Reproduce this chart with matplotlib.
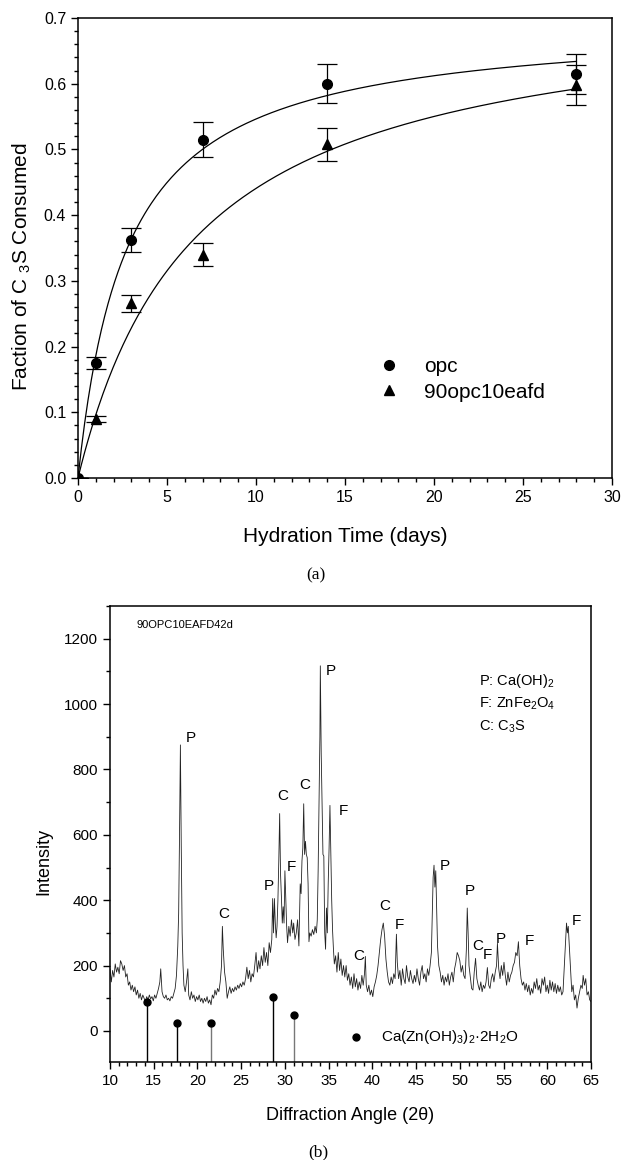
import numpy as np
import matplotlib
matplotlib.use("Agg")
import matplotlib.pyplot as plt
from matplotlib.ticker import MultipleLocator, FormatStrFormatter

plt.rcParams['font.family'] = ['Liberation Sans', 'DejaVu Sans']
plt.rcParams['mathtext.fontset'] = 'custom'
plt.rcParams['mathtext.rm'] = 'Liberation Sans'
plt.rcParams['mathtext.it'] = 'Liberation Sans'
plt.rcParams['mathtext.bf'] = 'Liberation Sans'

# ---------------- (a) data ----------------
days = [0, 1, 3, 7, 14, 28]
opc = [0.0, 0.175, 0.362, 0.515, 0.600, 0.615]
opc_err = [0.0, 0.009, 0.018, 0.026, 0.030, 0.030]
blend = [0.0, 0.090, 0.266, 0.340, 0.508, 0.598]
blend_err = [0.0, 0.005, 0.013, 0.017, 0.025, 0.030]
# hyperbolic fit parameters y = a*t/(b+t)
opc_fit = (0.696, 2.74)
blend_fit = (0.732, 6.61)

# ---------------- (b) data ----------------
xrd_angle = [
    10.0, 10.15, 10.3, 10.45, 10.6, 10.75, 10.9, 11.05, 11.2, 11.35,
    11.5, 11.65, 11.8, 11.95, 12.1, 12.25, 12.4, 12.55, 12.7, 12.85,
    13.0, 13.15, 13.3, 13.45, 13.6, 13.75, 13.9, 14.05, 14.2, 14.35,
    14.5, 14.65, 14.8, 14.95, 15.1, 15.25, 15.4, 15.55, 15.7, 15.8,
    15.95, 16.1, 16.25, 16.4, 16.55, 16.7, 16.85, 17.0, 17.15, 17.3,
    17.45, 17.6, 17.75, 17.85, 17.95, 18.05, 18.15, 18.25, 18.35, 18.45,
    18.6, 18.75, 18.9, 19.0, 19.15, 19.3, 19.45, 19.6, 19.75, 19.9,
    20.05, 20.2, 20.35, 20.5, 20.65, 20.8, 20.95, 21.1, 21.25, 21.4,
    21.55, 21.7, 21.85, 22.0, 22.15, 22.3, 22.45, 22.6, 22.75, 22.85,
    22.95, 23.1, 23.25, 23.4, 23.55, 23.7, 23.85, 24.0, 24.15, 24.3,
    24.45, 24.6, 24.75, 24.9, 25.05, 25.2, 25.35, 25.5, 25.65, 25.8,
    25.95, 26.1, 26.25, 26.4, 26.55, 26.7, 26.85, 27.0, 27.15, 27.3,
    27.45, 27.6, 27.75, 27.9, 28.05, 28.2, 28.35, 28.5, 28.6, 28.7,
    28.8, 28.9, 29.0, 29.1, 29.2, 29.3, 29.4, 29.5, 29.6, 29.7,
    29.8, 29.9, 30.0, 30.1, 30.2, 30.3, 30.45, 30.6, 30.75, 30.9,
    31.0, 31.15, 31.3, 31.45, 31.6, 31.75, 31.85, 31.95, 32.05, 32.15,
    32.25, 32.35, 32.45, 32.55, 32.65, 32.75, 32.85, 33.0, 33.15, 33.3,
    33.45, 33.6, 33.7, 33.8, 33.9, 34.0, 34.05, 34.15, 34.25, 34.35,
    34.45, 34.55, 34.65, 34.75, 34.85, 34.95, 35.05, 35.15, 35.25, 35.35,
    35.45, 35.55, 35.65, 35.8, 35.95, 36.1, 36.25, 36.4, 36.55, 36.7,
    36.85, 37.0, 37.15, 37.3, 37.45, 37.6, 37.75, 37.9, 38.05, 38.2,
    38.35, 38.5, 38.65, 38.8, 38.95, 39.1, 39.2, 39.3, 39.45, 39.6,
    39.75, 39.9, 40.05, 40.2, 40.35, 40.5, 40.65, 40.8, 40.95, 41.1,
    41.25, 41.4, 41.55, 41.7, 41.85, 42.0, 42.15, 42.3, 42.45, 42.6,
    42.75, 42.85, 43.0, 43.15, 43.3, 43.45, 43.6, 43.75, 43.9, 44.05,
    44.2, 44.35, 44.5, 44.65, 44.8, 44.95, 45.1, 45.25, 45.4, 45.55,
    45.7, 45.85, 46.0, 46.15, 46.3, 46.45, 46.6, 46.75, 46.85, 46.95,
    47.05, 47.15, 47.25, 47.35, 47.45, 47.6, 47.75, 47.9, 48.05, 48.2,
    48.35, 48.5, 48.65, 48.8, 48.95, 49.1, 49.25, 49.4, 49.55, 49.7,
    49.85, 50.0, 50.15, 50.3, 50.45, 50.6, 50.75, 50.85, 50.95, 51.05,
    51.2, 51.35, 51.5, 51.65, 51.8, 51.95, 52.1, 52.25, 52.4, 52.55,
    52.7, 52.85, 53.0, 53.15, 53.3, 53.45, 53.6, 53.75, 53.9, 54.05,
    54.2, 54.3, 54.45, 54.6, 54.75, 54.9, 55.05, 55.2, 55.35, 55.5,
    55.65, 55.8, 55.95, 56.1, 56.25, 56.4, 56.55, 56.7, 56.85, 57.0,
    57.15, 57.3, 57.45, 57.6, 57.75, 57.9, 58.05, 58.2, 58.35, 58.5,
    58.65, 58.8, 58.95, 59.1, 59.25, 59.4, 59.55, 59.7, 59.85, 60.0,
    60.15, 60.3, 60.45, 60.6, 60.75, 60.9, 61.05, 61.2, 61.35, 61.5,
    61.65, 61.8, 61.95, 62.1, 62.2, 62.3, 62.4, 62.5, 62.65, 62.8,
    62.95, 63.1, 63.25, 63.4, 63.55, 63.7, 63.85, 64.0, 64.1, 64.25,
    64.4, 64.55, 64.7, 64.85, 65.0]
xrd_intensity = [
    190, 150, 185, 165, 205, 180, 195, 175, 215, 205,
    185, 200, 165, 175, 140, 150, 125, 140, 120, 135,
    110, 125, 100, 115, 95, 110, 100, 90, 105, 95,
    110, 98, 105, 92, 110, 100, 115, 130, 150, 190,
    120, 105, 100, 110, 95, 100, 92, 105, 100, 115,
    130, 170, 260, 360, 600, 875, 560, 300, 200, 140,
    120, 150, 190, 110, 95, 120, 100, 110, 90, 105,
    95, 110, 90, 100, 85, 100, 90, 105, 85, 95,
    80, 110, 100, 125, 110, 130, 120, 150, 200, 320,
    250, 180, 150, 100, 120, 135, 115, 130, 120, 135,
    125, 140, 130, 145, 135, 150, 140, 160, 195, 160,
    185, 150, 175, 165, 200, 240, 180, 215, 190, 230,
    200, 255, 210, 240, 200, 270, 240, 280, 405, 300,
    405, 330, 285, 320, 400, 520, 665, 480, 410, 330,
    380, 330, 490, 400, 320, 270, 320, 290, 340, 300,
    330, 280, 300, 340, 260, 450, 420, 520, 560, 695,
    540, 580, 540, 530, 450, 273, 300, 290, 310, 295,
    320, 300, 340, 490, 700, 900, 1117, 850, 695, 540,
    535, 300, 250, 376, 300, 450, 558, 690, 540, 400,
    307, 250, 205, 230, 180, 240, 185, 220, 170, 200,
    165, 200, 155, 175, 140, 165, 130, 175, 135, 160,
    125, 150, 130, 170, 140, 175, 228, 140, 120, 140,
    110, 125, 105, 135, 150, 170, 200, 240, 280, 310,
    330, 290, 220, 180, 150, 140, 165, 145, 175, 160,
    296, 210, 160, 185, 140, 190, 160, 145, 200, 165,
    150, 185, 160, 145, 170, 150, 190, 160, 140, 180,
    200, 160, 175, 150, 190, 170, 200, 240, 350, 470,
    507, 440, 490, 380, 260, 200, 180, 150, 170, 140,
    165, 150, 175, 140, 165, 180, 150, 190, 210, 240,
    230, 215, 180, 200, 170, 160, 250, 376, 300, 200,
    165, 130, 125, 180, 222, 160, 140, 125, 150, 120,
    140, 130, 150, 194, 140, 130, 160, 175, 150, 180,
    200, 268, 190, 160, 200, 170, 210, 170, 140, 180,
    150, 170, 180, 200, 210, 240, 230, 273, 200, 160,
    140, 150, 125, 145, 120, 140, 110, 130, 115, 150,
    130, 160, 125, 140, 115, 160, 140, 165, 120, 140,
    115, 155, 125, 150, 120, 145, 115, 140, 120, 135,
    110, 120, 200, 280, 330, 300, 320, 270, 200, 120,
    140, 95, 110, 70, 100, 120, 140, 130, 170, 140,
    160, 110, 120, 95, 90]
assert len(xrd_angle) == len(xrd_intensity)

stick_angle = [14.2, 17.7, 21.6, 28.6, 31.0]
stick_int = [90, 25, 25, 105, 50]
stick_colors = ['black', 'black', '#777777', 'black', '#777777']
peak_labels = ['P', 'C', 'P', 'C', 'F', 'C', 'P', 'F', 'C', 'C', 'F', 'P', 'P', 'C', 'F', 'P', 'F', 'F']
peak_x = [19.2, 23.0, 28.2, 29.7, 30.7, 32.3, 35.3, 36.7, 38.45, 41.4, 43.1, 48.3, 51.1, 52.0, 53.2, 54.7, 57.9, 63.3]
peak_y = [895, 357, 442, 720, 501, 752, 1102, 672, 230, 382, 325, 504, 427, 259, 231, 281, 276, 336]
phase_keys = ['P: Ca(OH)$_2$', 'F: ZnFe$_2$O$_4$', 'C: C$_3$S']
sample_name = '90OPC10EAFD42d'
stick_legend = 'Ca(Zn(OH)$_3$)$_2$·2H$_2$O'

fig = plt.figure(figsize=(6.25, 11.6), dpi=100)

# ---------------- panel (a) ----------------
ax1 = fig.add_axes([78 / 625, 1 - 478 / 1160, 534 / 625, 460 / 1160])
t = np.linspace(0, 28, 300)
ax1.plot(t, opc_fit[0] * t / (opc_fit[1] + t), color='black', lw=0.9)
ax1.plot(t, blend_fit[0] * t / (blend_fit[1] + t), color='black', lw=0.9)
ax1.errorbar(days, opc, yerr=opc_err, fmt='o', color='black', ms=7, capsize=7,
             elinewidth=0.9, capthick=0.9, label='opc')
ax1.errorbar(days, blend, yerr=blend_err, fmt='^', color='black', ms=7.5, capsize=7,
             elinewidth=0.9, capthick=0.9, label='90opc10eafd')
ax1.set_xlim(0, 30)
ax1.set_ylim(0, 0.7)
ax1.xaxis.set_major_locator(MultipleLocator(5))
ax1.xaxis.set_minor_locator(MultipleLocator(1))
ax1.yaxis.set_major_locator(MultipleLocator(0.1))
ax1.yaxis.set_minor_locator(MultipleLocator(0.02))
ax1.yaxis.set_major_formatter(FormatStrFormatter('%.1f'))
ax1.tick_params(which='major', direction='out', length=5, width=1, labelsize=11.5)
ax1.tick_params(which='minor', direction='out', length=3, width=1)
for s in ax1.spines.values():
    s.set_linewidth(1.1)
ax1.set_xlabel('Hydration Time (days)', fontsize=15, va='center')
ax1.xaxis.set_label_coords(0.5, (478 - 537) / 460)
ax1.set_ylabel('Faction of C $_{3}$S Consumed', fontsize=15, va='center')
ax1.yaxis.set_label_coords((22 - 78) / 534, 0.46)
handles, labels = ax1.get_legend_handles_labels()
handles = [h[0] for h in handles]
ax1.legend(handles, labels, frameon=False, loc='center left', bbox_to_anchor=(0.563, 0.214),
           borderaxespad=0, borderpad=0, fontsize=15, handlelength=1.0,
           handletextpad=1.2, labelspacing=0.3)
fig.text(316 / 625, 1 - 575 / 1160, '(a)', family='Liberation Serif', fontsize=12.5,
         ha='center', va='center')

# ---------------- panel (b) ----------------
ax2 = fig.add_axes([110 / 625, 1 - 1062 / 1160, 481 / 625, 456 / 1160])
ax2.plot(xrd_angle, xrd_intensity, color='#222222', lw=0.6)
ax2.vlines(stick_angle, -95, stick_int, colors=stick_colors, lw=1.0)
ax2.plot(stick_angle, stick_int, 'o', color='black', ms=5)
ax2.plot([38.1], [-17], 'o', color='black', ms=5)
ax2.text(41.0, -17, stick_legend, fontsize=11, va='center', ha='left')
for lab, x, y in zip(peak_labels, peak_x, peak_y):
    ax2.text(x, y, lab, fontsize=11, ha='center', va='center')
for i, key in enumerate(phase_keys):
    ax2.text(52.2, 1071 - i * 70, key, fontsize=10.5, ha='left', va='center')
ax2.text(13.0, 1242, sample_name, fontsize=8, ha='left', va='center')
ax2.set_xlim(10, 65)
ax2.set_ylim(-95, 1300)
ax2.xaxis.set_major_locator(MultipleLocator(5))
ax2.xaxis.set_minor_locator(MultipleLocator(1))
ax2.yaxis.set_major_locator(MultipleLocator(200))
ax2.yaxis.set_minor_locator(MultipleLocator(100))
ax2.tick_params(which='major', direction='out', length=5, width=1, labelsize=11)
ax2.tick_params(which='minor', direction='out', length=3, width=1)
for s in ax2.spines.values():
    s.set_linewidth(1.1)
ax2.set_xlabel('Diffraction Angle (2θ)', fontsize=13, va='center')
ax2.xaxis.set_label_coords(0.5, (1062 - 1116) / 456)
ax2.set_ylabel('Intensity', fontsize=13, va='center')
ax2.yaxis.set_label_coords((44 - 110) / 481, 0.44)
fig.text(318 / 625, 1 - 1152 / 1160, '(b)', family='Liberation Serif', fontsize=12.5,
         ha='center', va='center')

fig.savefig('out.png', dpi=100)
